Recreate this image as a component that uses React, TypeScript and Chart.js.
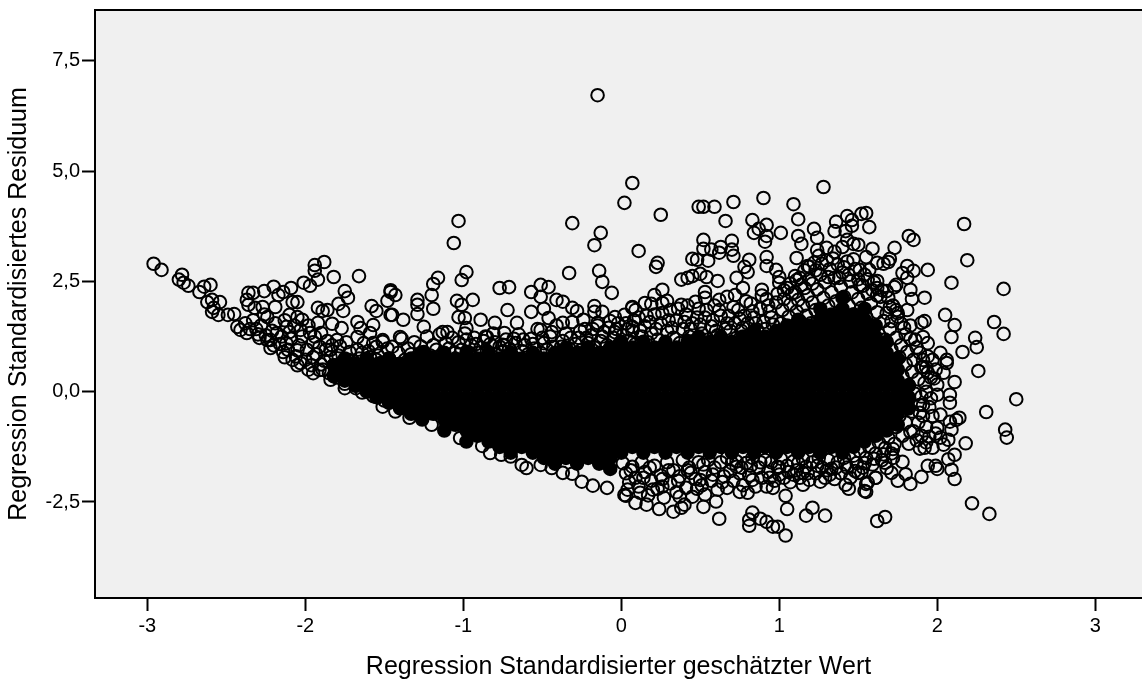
import React, { useEffect, useRef } from "react";
import { Chart, registerables } from "chart.js";

Chart.register(...registerables);

const xTickValues = [-3, -2, -1, 0, 1, 2, 3];
const yTickValues = [-2.5, 0, 2.5, 5, 7.5];
const xTitle = "Regression Standardisierter geschätzter Wert";
const yTitle = "Regression Standardisiertes Residuum";

// Individually legible circles: [x, y].
const leftWing = [
  [-2.96,2.9],[-2.91,2.76],[-2.78,2.65],[-2.8,2.54],[-2.77,2.47],[-2.74,2.4],[-2.67,2.26],[-2.64,2.38],[-2.6,2.42],[-2.62,2.03],[-2.59,2.08],[-2.54,2.03],[-2.58,1.9],[-2.59,1.81],[-2.55,1.74],[-2.49,1.74],[-2.45,1.76],[-2.43,1.47],[-2.41,1.4],[-2.37,1.33],[-2.37,2.08],[-2.36,2.24],[-2.33,2.24],[-2.36,1.97],[-2.32,1.9],[-2.27,1.92],[-2.26,2.28],[-2.2,2.38],[-2.17,2.19],[-2.14,2.26],[-2.09,2.35],[-2.08,2.03],[-2.05,2.03],[-2.19,1.92],[-2.24,1.69],[-2.1,1.74],[-2.05,1.69],[-2.02,1.63],[-2.01,2.47],[-1.97,2.4],[-1.92,2.54],[-1.94,2.87],[-1.88,2.94],[-1.94,2.74],[-1.82,2.6],[-1.66,2.62],[-1.75,2.28],[-1.73,2.13],[-1.79,1.99],[-1.76,1.83],[-1.92,1.9],[-1.89,1.83],[-1.86,1.85],[-1.92,1.56],[-1.83,1.54],[-1.77,1.44],[-1.67,1.58],[-1.65,1.44],[-1.57,1.51],[-1.58,1.94],[-1.55,1.83],[-1.48,2.06],[-1.46,2.26],[-1.46,1.74],[-1.51,1.13],[-1.59,1.33],[-1.57,1.1],[-1.75,0.08],[-1.84,0.27],[-2.05,0.6],[-1.95,0.42],[-2.22,0.99],[-2.13,0.78],[-2.29,1.22],[-2.24,1.17],[-2.18,1.33],[-2.12,1.47],[-2.03,1.4],[-1.97,1.33],[-1.9,1.33],[-1.8,1.17],[-1.67,1.24],[-1.64,0.88],[-1.55,0.72],[-2.05,0.94],[-2.12,1.1],[-1.95,0.78],[-1.84,0.78],[-1.74,0.65],[-1.91,0.49],[-1.74,0.42],[-1.65,0.26],[-1.59,0.11],[-1.51,0.27],[-1.55,-0.12],[-1.67,0.56],
];
const upperMiddle = [
  [-0.15,6.72],[-1.03,3.87],[-1.06,3.37],[-0.31,3.82],[-0.13,3.6],[-0.17,3.32],[-0.33,2.69],[-0.14,2.74],[-0.12,2.49],[-0.06,2.24],[-0.98,2.71],[-1.01,2.53],[-1.16,2.58],[-1.19,2.44],[-1.2,2.19],[-1.46,2.3],[-1.43,2.19],[-1.29,2.08],[-1.29,1.97],[-1.29,1.76],[-1.45,1.74],[-1.19,1.88],[-1.04,2.06],[-1.01,1.97],[-0.94,2.08],[-1.03,1.69],[-0.99,1.67],[-0.77,2.35],[-0.71,2.37],[-0.57,2.26],[-0.51,2.42],[-0.46,2.37],[-0.51,2.15],[-0.41,2.08],[-0.37,2.04],[-0.17,1.94],[-0.17,1.81],[-0.12,1.81],[0.07,1.9],[-0.31,1.9],[-0.28,1.83],[-0.72,1.85],[-0.49,1.88],[-0.57,1.81],[-1.38,1.63],[-1.25,1.47],[-1.13,1.35],[-1.1,1.35],[-0.98,1.44],[-0.89,1.63],[-0.8,1.56],[-0.66,1.56],[-0.46,1.67],[-0.24,1.63],[-0.04,1.69],[0.02,1.74],[-1.4,1.24],[-1.51,1.17],[-0.85,1.24],[-0.74,1.33],[-0.75,1.06],[-0.37,1.56],[-0.15,1.56],[0.07,1.47],[-0.51,1.4],
];
const upperRight = [
  [0.07,4.73],[0.02,4.28],[0.25,4.01],[0.11,3.19],[0.23,2.92],[0.22,2.83],[0.49,4.19],[0.52,4.19],[0.59,4.19],[0.71,4.3],[0.66,3.87],[0.9,4.39],[0.83,3.89],[0.92,3.78],[0.87,3.69],[0.84,3.6],[0.92,3.53],[0.91,3.4],[1.01,3.6],[1.09,4.25],[1.12,3.91],[1.28,4.64],[1.12,3.53],[1.14,3.35],[1.22,3.69],[1.24,3.49],[1.36,3.85],[1.35,3.64],[1.43,3.98],[1.46,3.89],[1.46,3.76],[1.52,4.03],[1.55,4.05],[1.57,3.73],[1.42,3.64],[1.43,3.44],[1.4,3.28],[1.47,3.35],[1.5,3.33],[1.59,3.24],[1.11,3.03],[0.92,3.05],[0.92,2.85],[0.81,2.99],[0.78,2.83],[0.8,2.71],[0.98,2.76],[1.0,2.6],[0.73,2.58],[0.61,2.51],[0.52,3.44],[0.7,3.42],[0.52,3.24],[0.57,3.22],[0.62,3.15],[0.63,3.28],[0.7,3.22],[0.71,3.08],[0.45,3.01],[0.48,2.99],[0.55,2.97],[0.38,2.54],[0.42,2.58],[0.45,2.62],[0.5,2.67],[0.54,2.6],[0.53,2.26],[0.53,2.13],[0.26,2.31],[0.21,2.19],[0.15,2.01],[0.19,1.99],[0.29,2.06],[0.26,2.01],[0.07,1.92],[0.09,1.85],[0.38,1.97],[0.42,1.95],[0.47,2.04],[0.62,2.08],[0.67,2.15],[0.72,2.19],[0.77,2.35],[0.89,2.31],[1.0,2.47],[1.11,2.53],[1.19,2.83],[1.24,3.21],[1.3,3.26],[1.35,3.17],[1.55,3.05],[1.51,2.76],[1.57,2.76],[1.62,2.92],
];
const farRight = [
  [2.17,3.8],[2.19,2.98],[2.42,2.33],[2.09,2.47],[1.94,2.76],[1.82,3.53],[1.85,3.44],[1.73,3.26],[1.7,3.01],[1.66,2.9],[1.69,2.94],[1.81,2.85],[1.85,2.74],[1.78,2.69],[1.81,2.58],[1.74,2.42],[1.73,2.37],[1.62,2.51],[1.83,2.31],[1.84,2.1],[1.92,2.13],[1.69,2.13],[1.81,1.85],[2.05,1.74],[2.11,1.51],[2.09,1.24],[1.92,1.6],[1.9,1.56],[2.36,1.58],[2.42,1.31],[2.24,1.22],[2.25,1.01],[2.16,0.9],[2.02,0.88],[1.94,1.1],[1.62,2.35],[1.75,1.78],[1.7,1.92],[1.91,1.24],[2.06,0.72],[1.97,0.72],
  [2.26,0.47],[2.11,0.22],[2.04,0.43],[2.06,0.65],[2.5,-0.17],[2.31,-0.46],[2.43,-0.86],[2.44,-1.04],[2.18,-1.17],[2.11,-1.43],[2.07,-1.53],[2.09,-1.77],[2.11,-1.98],[2.0,-1.75],[1.99,-1.68],[1.94,-1.68],[1.9,-1.93],[1.83,-2.09],[1.8,-1.87],[1.75,-2.02],[1.71,-1.84],[1.68,-1.73],[1.61,-1.95],[1.55,-2.09],[1.54,-2.25],[1.52,-1.84],[2.22,-2.53],[2.33,-2.77],[1.67,-2.84],[1.62,-2.93],[2.14,-0.59],[2.12,-0.64],[2.09,-0.86],[2.07,-1.09],[2.04,-1.2],[1.97,-1.27],[1.92,-1.27],[1.89,-1.29],[2.08,-0.07],[2.08,-0.25],[2.0,-0.07],[2.0,0.16],[1.94,0.43],[1.91,0.56],[1.93,0.0],[1.9,-0.11],[2.02,-0.52],[2.08,-0.68],[2.0,-0.82],[2.02,-1.04],[1.95,-1.02],[1.89,-0.48],[1.83,-0.91],[1.78,-1.59],[1.72,-1.5],[1.67,-1.61],
];
const lowerEdge = [
  [1.04,-2.36],[1.05,-2.66],[1.04,-3.26],[0.99,-3.06],[0.96,-3.06],[0.92,-2.95],[0.88,-2.88],[0.83,-2.74],[0.81,-2.9],[0.81,-3.04],[0.62,-2.88],[1.21,-2.63],[1.17,-2.81],[1.29,-2.81],[0.52,-2.61],[0.6,-2.49],[0.24,-2.66],[0.33,-2.72],[0.38,-2.63],[0.4,-2.56],[0.16,-2.56],[0.09,-2.52],[0.03,-2.36],[0.04,-2.22],[0.2,-2.22],[0.37,-2.38],[0.53,-2.33],[0.67,-2.18],[0.75,-2.27],[0.8,-2.29],[0.92,-2.15],[0.96,-2.18],[1.15,-2.11],[1.26,-2.04],[1.42,-2.11],[1.44,-2.2],[1.55,-2.27],[1.56,-2.06],[1.61,-1.95],[1.09,-1.88],[1.15,-1.84],[1.32,-1.88],[1.5,-1.84],[1.0,-1.88],[0.83,-2.0],[0.73,-1.7],[0.5,-2.0],[0.44,-1.84],[0.26,-2.15],[0.12,-2.29],
  [-0.83,-1.39],[-0.76,-1.43],[-0.7,-1.47],[-0.63,-1.66],[-0.6,-1.73],[-0.51,-1.66],[-0.44,-1.73],[-0.37,-1.84],[-0.31,-1.86],[-0.25,-2.04],[-0.18,-2.13],[-0.09,-2.18],[0.02,-2.34],[-0.88,-1.23],[-1.02,-1.05],[-1.2,-0.75],[-1.34,-0.59],[-1.43,-0.45],[-1.51,-0.34],
];

// Overlapping circles around the solid mass, placed by local density.
const wingBand = [
  [-2.38,1.55],[-2.35,1.42],[-2.33,1.62],[-2.3,1.3],[-2.28,1.5],[-2.26,1.75],[-2.22,1.17],[-2.21,1.38],[-2.19,1.55],[-2.16,1.08],[-2.15,1.25],[-2.13,1.62],[-2.11,0.95],[-2.09,1.2],[-2.07,1.5],[-2.06,0.8],[-2.04,1.05],[-2.02,1.25],[-2.0,0.72],[-1.99,0.95],[-1.98,1.5],[-1.96,0.6],[-1.95,1.12],[-1.93,0.85],[-1.91,1.02],[-1.89,0.5],[-1.88,0.7],[-1.86,1.15],[-1.85,0.42],[-1.84,0.95],[-1.82,0.6],[-1.8,0.32],[-1.79,0.82],[-1.78,1.03],[-1.76,0.5],[-1.75,0.18],[-1.73,0.72],[-1.72,0.9],[-1.7,0.3],[-1.69,0.55],[-1.68,0.08],[-1.66,0.75],[-1.65,0.4],[-1.64,-0.02],[-1.62,0.18],[-1.61,0.62],[-1.6,0.92],[-1.58,0.3],[-1.57,-0.1],[-1.56,0.5],[-1.54,0.82],[-1.53,0.05],[-1.52,0.65],[-1.5,-0.2],[-1.49,0.4],[-1.48,0.98],
  [-2.31,1.42],[-2.25,1.28],[-2.2,1.05],[-2.14,0.9],[-2.1,1.35],[-2.08,0.72],[-2.03,0.65],[-1.98,0.5],[-1.94,1.25],[-1.9,0.62],[-1.87,0.95],[-1.83,1.05],[-1.81,0.45],[-1.77,0.65],[-1.74,1.12],[-1.71,0.45],[-1.67,0.95],[-1.63,1.1],[-1.59,0.78],[-1.55,1.02],
];
const topBand = [
  [-1.47,0.75],[-1.45,1.02],[-1.43,0.62],[-1.41,0.88],[-1.39,1.2],[-1.37,0.72],[-1.35,0.98],[-1.33,0.85],[-1.31,1.12],[-1.29,0.78],[-1.27,1.03],[-1.25,0.9],[-1.23,1.25],[-1.21,0.82],[-1.19,1.05],[-1.17,0.95],[-1.15,1.3],[-1.13,0.85],[-1.11,1.1],[-1.09,0.98],[-1.07,1.22],[-1.05,0.88],[-1.03,1.12],[-1.01,0.95],[-0.99,1.32],[-0.97,0.9],[-0.95,1.05],[-0.93,1.22],[-0.91,0.88],[-0.89,1.0],[-0.87,1.15],[-0.85,0.92],[-0.83,1.08],[-0.81,1.32],[-0.79,0.85],[-0.77,1.02],[-0.75,0.9],[-0.73,1.18],[-0.71,0.98],[-0.69,0.82],[-0.67,1.1],[-0.65,1.3],[-0.63,0.92],[-0.61,1.05],[-0.59,0.85],[-0.57,1.2],[-0.55,0.98],[-0.53,1.42],[-0.51,0.88],[-0.49,1.1],[-0.47,0.95],[-0.45,1.25],[-0.43,1.02],[-0.41,1.5],[-0.39,0.9],[-0.37,1.15],[-0.35,1.32],[-0.33,0.98],[-0.31,1.58],[-0.29,1.08],[-0.27,1.22],[-0.25,0.95],[-0.23,1.42],[-0.21,1.1],[-0.19,1.28],[-0.17,1.0],[-0.15,1.5],[-0.13,1.15],[-0.11,1.35],[-0.09,1.05],[-0.07,1.6],[-0.05,1.22],[-0.03,1.42],[-0.01,1.1],
  [0.01,1.28],[0.03,1.55],[0.05,1.15],[0.07,1.38],[0.09,1.08],[0.11,1.68],[0.13,1.25],[0.15,1.48],[0.17,1.12],[0.19,1.32],[0.21,1.75],[0.23,1.18],[0.25,1.55],[0.27,1.05],[0.29,1.38],[0.31,1.85],[0.33,1.22],[0.35,1.62],[0.37,1.1],[0.39,1.42],[0.41,1.75],[0.43,1.25],[0.45,1.55],[0.47,1.08],[0.49,1.88],[0.51,1.32],[0.53,1.68],[0.55,1.18],[0.57,1.48],[0.59,1.95],[0.61,1.28],[0.63,1.72],[0.65,1.12],[0.67,1.55],[0.69,1.38],[0.71,1.92],[0.73,1.22],[0.75,1.65],[0.77,1.45],[0.79,2.05],[0.81,1.28],[0.83,1.82],[0.85,1.55],[0.87,1.18],[0.89,2.18],[0.91,1.42],[0.93,1.95],[0.95,1.68],[0.97,1.3],[0.99,2.22],
  [0.04,1.42],[0.08,1.62],[0.12,1.38],[0.16,1.72],[0.18,1.58],[0.22,1.42],[0.26,1.78],[0.3,1.62],[0.32,1.45],[0.36,1.88],[0.4,1.58],[0.44,1.42],[0.48,1.68],[0.5,1.52],[0.54,1.85],[0.58,1.62],[0.6,1.38],[0.62,1.85],[0.66,1.42],[0.68,1.72],[0.72,1.55],[0.74,1.85],[0.76,1.38],[0.78,1.72],[0.8,1.55],[0.82,2.0],[0.84,1.68],[0.86,1.4],[0.88,1.88],[0.9,1.58],[0.92,2.1],[0.94,1.82],[0.96,1.52],[0.98,2.02],
  [-0.98,1.18],[-0.92,1.08],[-0.86,1.25],[-0.8,1.12],[-0.74,1.05],[-0.68,1.2],[-0.62,1.18],[-0.56,1.08],[-0.5,1.22],[-0.44,1.35],[-0.38,1.02],[-0.32,1.22],[-0.26,1.38],[-0.22,1.22],[-0.18,1.42],[-0.12,1.25],[-0.08,1.45],[-0.04,1.35],[-0.02,1.55],
];
const rightPlume = [
  [1.01,1.55],[1.02,1.85],[1.03,2.1],[1.04,1.35],[1.05,2.35],[1.06,1.7],[1.07,1.98],[1.08,2.22],[1.09,1.48],[1.1,2.62],[1.11,1.82],[1.12,2.08],[1.13,1.6],[1.14,2.42],[1.15,1.95],[1.16,2.75],[1.17,1.72],[1.18,2.18],[1.19,2.55],[1.2,1.55],[1.21,2.02],[1.22,2.92],[1.23,1.85],[1.24,2.32],[1.25,3.08],[1.26,2.65],[1.27,1.72],[1.28,2.12],[1.29,2.48],[1.3,2.98],[1.31,1.95],[1.32,2.78],[1.33,2.25],[1.34,1.65],[1.35,2.58],[1.36,2.05],[1.37,2.88],[1.38,1.8],[1.39,2.38],[1.4,2.7],[1.41,2.15],[1.42,1.55],[1.43,2.95],[1.44,1.95],[1.45,2.5],[1.46,2.25],[1.47,1.75],[1.48,2.78],[1.49,1.5],[1.5,2.1],[1.51,2.42],[1.52,1.9],[1.53,1.35],[1.54,2.65],[1.55,1.7],[1.56,2.22],[1.57,1.2],[1.58,2.0],[1.59,1.5],[1.6,2.48],[1.61,1.05],[1.62,1.8],[1.63,1.3],[1.64,2.15],[1.65,0.92],[1.66,1.6],[1.67,1.18],[1.68,2.28],[1.69,0.7],[1.7,1.42],[1.71,0.95],[1.72,1.95],[1.73,0.52],[1.74,1.22],[1.75,1.7],[1.76,0.78],[1.77,1.05],[1.78,0.35],[1.79,1.45],[1.8,0.62],[1.81,0.9],[1.82,0.15],[1.83,1.2],[1.84,0.45],[1.85,0.72],[1.86,-0.05],[1.87,1.0],[1.88,0.28],[1.89,-0.3],[1.9,0.55],[1.91,-0.55],[1.92,0.2],[1.93,-0.8],[1.94,0.8],[1.95,-0.35],[1.96,-0.15],[1.97,-0.55],[1.98,0.3],[1.99,-0.95],
  [1.74,-0.8],[1.76,-0.55],[1.78,-1.0],[1.8,-0.7],[1.82,-1.18],[1.84,-0.45],[1.85,-0.9],[1.87,-1.1],[1.88,-0.7],[1.9,-1.0],[1.91,-0.3],[1.93,-1.15],
  [1.03,2.3],[1.07,2.45],[1.1,2.25],[1.13,2.58],[1.16,2.35],[1.18,2.85],[1.21,2.45],[1.23,2.75],[1.27,2.9],[1.31,2.6],[1.34,3.02],[1.38,2.58],[1.41,2.82],[1.44,2.65],[1.47,3.0],[1.5,2.55],[1.53,2.4],[1.56,2.55],[1.59,2.3],[1.62,2.18],[1.65,2.3],[1.68,1.78],[1.71,1.6],[1.74,1.85],[1.77,1.55],[1.8,1.3],[1.83,1.5],[1.86,1.18],[1.89,0.88],[1.91,0.72],[1.93,0.55],[1.96,0.32],[1.99,0.5],
];
const lowerBand = [
  [0.01,-1.62],[0.03,-1.85],[0.05,-2.05],[0.07,-1.7],[0.09,-1.95],[0.11,-2.15],[0.13,-1.6],[0.15,-1.82],[0.17,-2.35],[0.19,-2.02],[0.21,-1.68],[0.23,-2.2],[0.25,-1.9],[0.27,-2.4],[0.29,-1.6],[0.31,-2.08],[0.33,-1.78],[0.35,-2.28],[0.37,-1.92],[0.39,-1.55],[0.41,-2.18],[0.43,-1.72],[0.45,-2.38],[0.47,-1.98],[0.49,-1.6],[0.51,-2.12],[0.53,-1.82],[0.55,-1.55],[0.57,-2.02],[0.59,-1.72],[0.61,-2.22],[0.63,-1.6],[0.65,-1.92],[0.67,-1.5],[0.69,-1.8],[0.71,-2.02],[0.73,-1.58],[0.75,-1.85],[0.77,-2.12],[0.79,-1.62],[0.81,-1.9],[0.83,-1.5],[0.85,-2.15],[0.87,-1.72],[0.89,-1.95],[0.91,-1.55],[0.93,-1.82],[0.95,-1.6],[0.97,-2.02],[0.99,-1.7],
  [1.01,-1.52],[1.03,-1.95],[1.05,-1.68],[1.07,-2.05],[1.09,-1.58],[1.11,-1.78],[1.13,-1.95],[1.15,-1.52],[1.17,-1.7],[1.19,-2.0],[1.21,-1.6],[1.23,-1.85],[1.25,-1.5],[1.27,-1.72],[1.29,-1.95],[1.31,-1.55],[1.33,-1.75],[1.35,-1.98],[1.37,-1.6],[1.39,-1.85],[1.41,-1.5],[1.43,-1.72],[1.45,-1.95],[1.47,-1.45],[1.49,-1.62],[1.51,-1.35],[1.53,-1.72],[1.55,-1.5],[1.57,-1.25],[1.59,-1.65],[1.61,-1.4],[1.63,-1.15],[1.65,-1.55],[1.67,-1.28],[1.69,-1.05],[1.71,-1.4],[1.73,-1.18],
  [0.06,-1.78],[0.14,-1.95],[0.18,-1.72],[0.26,-1.98],[0.3,-1.78],[0.36,-2.02],[0.42,-1.78],[0.48,-2.2],[0.52,-1.65],[0.58,-1.88],[0.64,-2.05],[0.7,-1.62],[0.76,-1.72],[0.82,-1.68],[0.88,-1.6],[0.94,-1.95],[1.0,-1.72],[1.06,-1.82],[1.12,-1.62],[1.18,-1.85],[1.24,-1.68],[1.3,-1.78],[1.36,-1.72],[1.42,-1.65],[1.48,-1.8],[1.54,-1.62],[1.6,-1.52],[1.66,-1.42],[1.72,-1.3],
];

// The region that prints solid black, where single circles cannot be read: [x, y, y, ...].
const solidMass = [
  [-1.82,0.6,0.35],[-1.75,0.75,0.5,0.25],[-1.68,0.63,0.38,0.13],[-1.61,0.75,0.5,0.25,0],
  [-1.54,0.63,0.38,0.13,-0.13],[-1.47,0.75,0.5,0.25,0,-0.25],[-1.4,0.63,0.38,0.13,-0.13,-0.38],
  [-1.33,0.75,0.5,0.25,0,-0.25,-0.5],[-1.26,0.88,0.63,0.38,0.13,-0.13,-0.38,-0.63],[-1.19,0.75,0.5,0.25,0,-0.25,-0.5],[-1.12,0.88,0.63,0.38,0.13,-0.13,-0.38,-0.63,-0.88],
  [-1.05,0.75,0.5,0.25,0,-0.25,-0.5,-0.75],[-0.98,0.88,0.63,0.38,0.13,-0.13,-0.38,-0.63,-0.88,-1.13],[-0.91,0.75,0.5,0.25,0,-0.25,-0.5,-0.75,-1],
  [-0.84,0.88,0.63,0.38,0.13,-0.13,-0.38,-0.63,-0.88,-1.13],[-0.77,0.75,0.5,0.25,0,-0.25,-0.5,-0.75,-1,-1.25],[-0.7,0.88,0.63,0.38,0.13,-0.13,-0.38,-0.63,-0.88,-1.13,-1.38],
  [-0.63,0.75,0.5,0.25,0,-0.25,-0.5,-0.75,-1,-1.25],[-0.56,0.88,0.63,0.38,0.13,-0.13,-0.38,-0.63,-0.88,-1.13,-1.38],[-0.49,0.75,0.5,0.25,0,-0.25,-0.5,-0.75,-1,-1.25,-1.5],
  [-0.42,0.88,0.63,0.38,0.13,-0.13,-0.38,-0.63,-0.88,-1.13,-1.38,-1.63],[-0.35,1,0.75,0.5,0.25,0,-0.25,-0.5,-0.75,-1,-1.25,-1.5],[-0.28,0.88,0.63,0.38,0.13,-0.13,-0.38,-0.63,-0.88,-1.13,-1.38,-1.63],
  [-0.21,1,0.75,0.5,0.25,0,-0.25,-0.5,-0.75,-1,-1.25,-1.5],[-0.14,0.88,0.63,0.38,0.13,-0.13,-0.38,-0.63,-0.88,-1.13,-1.38,-1.63],[-0.07,1,0.75,0.5,0.25,0,-0.25,-0.5,-0.75,-1,-1.25,-1.5,-1.75],
  [0,1.13,0.88,0.63,0.38,0.13,-0.13,-0.38,-0.63,-0.88,-1.13,-1.38],[0.07,1,0.75,0.5,0.25,0,-0.25,-0.5,-0.75,-1,-1.25],[0.14,1.13,0.88,0.63,0.38,0.13,-0.13,-0.38,-0.63,-0.88,-1.13,-1.38],
  [0.21,1,0.75,0.5,0.25,0,-0.25,-0.5,-0.75,-1,-1.25],[0.28,1.13,0.88,0.63,0.38,0.13,-0.13,-0.38,-0.63,-0.88,-1.13,-1.38],[0.35,1,0.75,0.5,0.25,0,-0.25,-0.5,-0.75,-1,-1.25],
  [0.42,1.13,0.88,0.63,0.38,0.13,-0.13,-0.38,-0.63,-0.88,-1.13,-1.38],[0.49,1.25,1,0.75,0.5,0.25,0,-0.25,-0.5,-0.75,-1,-1.25],[0.56,1.13,0.88,0.63,0.38,0.13,-0.13,-0.38,-0.63,-0.88,-1.13,-1.38],
  [0.63,1.25,1,0.75,0.5,0.25,0,-0.25,-0.5,-0.75,-1,-1.25],[0.7,1.13,0.88,0.63,0.38,0.13,-0.13,-0.38,-0.63,-0.88,-1.13,-1.38],[0.77,1.25,1,0.75,0.5,0.25,0,-0.25,-0.5,-0.75,-1,-1.25],
  [0.84,1.38,1.13,0.88,0.63,0.38,0.13,-0.13,-0.38,-0.63,-0.88,-1.13,-1.38],[0.91,1.25,1,0.75,0.5,0.25,0,-0.25,-0.5,-0.75,-1,-1.25],[0.98,1.38,1.13,0.88,0.63,0.38,0.13,-0.13,-0.38,-0.63,-0.88,-1.13,-1.38],
  [1.05,1.5,1.25,1,0.75,0.5,0.25,0,-0.25,-0.5,-0.75,-1,-1.25],[1.12,1.63,1.38,1.13,0.88,0.63,0.38,0.13,-0.13,-0.38,-0.63,-0.88,-1.13,-1.38],[1.19,1.5,1.25,1,0.75,0.5,0.25,0,-0.25,-0.5,-0.75,-1,-1.25],
  [1.26,1.88,1.63,1.38,1.13,0.88,0.63,0.38,0.13,-0.13,-0.38,-0.63,-0.88,-1.13,-1.38],[1.33,1.75,1.5,1.25,1,0.75,0.5,0.25,0,-0.25,-0.5,-0.75,-1,-1.25],[1.4,2.13,1.88,1.63,1.38,1.13,0.88,0.63,0.38,0.13,-0.13,-0.38,-0.63,-0.88,-1.13,-1.38],
  [1.47,1.75,1.5,1.25,1,0.75,0.5,0.25,0,-0.25,-0.5,-0.75,-1,-1.25],[1.54,1.88,1.63,1.38,1.13,0.88,0.63,0.38,0.13,-0.13,-0.38,-0.63,-0.88,-1.13],[1.61,1.5,1.25,1,0.75,0.5,0.25,0,-0.25,-0.5,-0.75,-1],
  [1.68,1.13,0.88,0.63,0.38,0.13,-0.13,-0.38,-0.63,-0.88],[1.75,0.75,0.5,0.25,0,-0.25,-0.5,-0.75],[1.82,0.13,-0.13,-0.38],
];

const fromPairs = (pairs: number[][]) => pairs.map(([x, y]) => ({ x, y }));
const fromColumns = (cols: number[][]) =>
  cols.flatMap(([x, ...ys]) => ys.map((y) => ({ x, y })));

const backgroundPlugin = {
  id: "plotBackground",
  beforeDraw(chart: any) {
    const { ctx, chartArea: a } = chart;
    ctx.save();
    ctx.fillStyle = "#f0f0f0";
    ctx.fillRect(a.left, a.top, a.right - a.left, a.bottom - a.top);
    ctx.restore();
  },
  afterDraw(chart: any) {
    const { ctx, chartArea: a } = chart;
    ctx.save();
    ctx.strokeStyle = "#000";
    ctx.lineWidth = 2;
    ctx.beginPath();
    ctx.moveTo(a.left, a.top);
    ctx.lineTo(a.right, a.top);
    ctx.stroke();
    ctx.restore();
  },
};

const pointStyle = {
  showLine: false,
  pointRadius: 6.3,
  pointBorderWidth: 2,
  pointBorderColor: "#000",
};

export default function App() {
  const ref = useRef<HTMLCanvasElement>(null);
  useEffect(() => {
    const font = { family: "'Liberation Sans', Arial, sans-serif" };
    const chart = new Chart(ref.current as HTMLCanvasElement, {
      type: "scatter",
      data: {
        datasets: [
          {
            label: "solid",
            data: fromColumns(solidMass),
            ...pointStyle,
            pointBackgroundColor: "#000",
          },
          {
            label: "circles",
            data: [
              ...fromPairs(leftWing),
              ...fromPairs(upperMiddle),
              ...fromPairs(upperRight),
              ...fromPairs(farRight),
              ...fromPairs(lowerEdge),
              ...fromPairs(wingBand),
              ...fromPairs(topBand),
              ...fromPairs(rightPlume),
              ...fromPairs(lowerBand),
            ],
            ...pointStyle,
            pointBackgroundColor: "rgba(0,0,0,0)",
          },
        ],
      },
      plugins: [backgroundPlugin],
      options: {
        animation: false,
        responsive: false,
        layout: { autoPadding: false, padding: { top: 10, right: 0, left: 0, bottom: 0 } },
        plugins: { legend: { display: false }, tooltip: { enabled: false } },
        scales: {
          x: {
            type: "linear",
            min: -3.331,
            max: 3.296,
            afterFit(s: any) { s.height = 82; s.paddingLeft = 0; s.paddingRight = 0; },
            afterBuildTicks(s: any) { s.ticks = xTickValues.map((value) => ({ value })); },
            grid: { drawOnChartArea: false, drawTicks: true, tickLength: 13, tickWidth: 2, tickColor: "#000" },
            border: { display: true, color: "#000", width: 2 },
            ticks: {
              color: "#000",
              padding: 3,
              maxRotation: 0,
              font: { ...font, size: 20 },
              callback: (v: any) => String(v),
            },
            title: {
              display: true,
              text: xTitle,
              color: "#000",
              font: { ...font, size: 25, lineHeight: 1 },
              padding: { top: 0, bottom: 0 },
            },
          },
          y: {
            type: "linear",
            min: -4.676,
            max: 8.651,
            afterFit(s: any) { s.width = 95; s.paddingTop = 0; s.paddingBottom = 0; },
            afterBuildTicks(s: any) { s.ticks = yTickValues.map((value) => ({ value })); },
            grid: { drawOnChartArea: false, drawTicks: true, tickLength: 13, tickWidth: 2, tickColor: "#000" },
            border: { display: true, color: "#000", width: 2 },
            ticks: {
              color: "#000",
              padding: 2,
              font: { ...font, size: 20 },
              callback: (v: any) => Number(v).toFixed(1).replace(".", ","),
            },
            title: {
              display: true,
              text: yTitle,
              color: "#000",
              font: { ...font, size: 25, lineHeight: 1 },
              padding: { top: 7, bottom: 0 },
            },
          },
        },
      },
    } as any);
    return () => chart.destroy();
  }, []);
  return (
    <canvas
      ref={ref}
      width={1142}
      height={680}
      style={{ position: "absolute", left: 0, top: 0, display: "block" }}
    />
  );
}
